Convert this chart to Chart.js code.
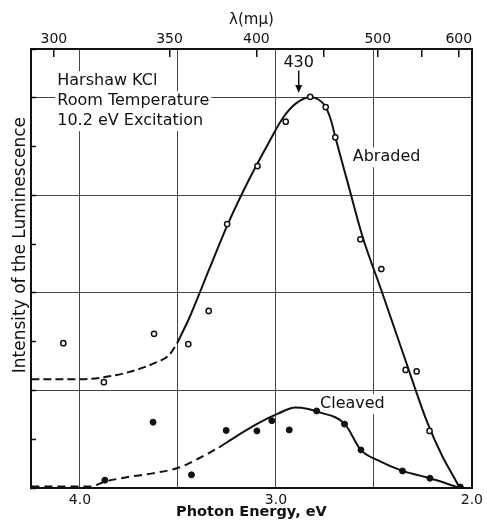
<!DOCTYPE html>
<html><head><meta charset="utf-8">
<script src="https://cdn.jsdelivr.net/npm/chart.js@4"></script>
<style>html,body{margin:0;padding:0;background:#fff}</style>
</head><body>
<canvas id="c" width="487" height="526"></canvas>
<script>
// ---- axis ticks ----
const energyTicks = [4.25, 4.0, 3.5, 3.0, 2.5, 2.0];
const energyLabels = {"4": "4.0", "3": "3.0", "2": "2.0"};
const lambdaTicks = [300, 350, 400, 450, 500, 550, 600];
const lambdaLabels = [300, 350, 400, 500, 600];
const intensityTicks = [0, 1, 2, 3, 4, 5, 6, 7, 8, 9];

// ---- measured points ----
const abradedE = [4.085, 3.878, 3.622, 3.447, 3.343, 3.249, 3.094, 2.950, 2.825, 2.746, 2.697, 2.569, 2.462, 2.338, 2.282, 2.216];
const abradedI = [2.97, 2.17, 3.16, 2.95, 3.63, 5.41, 6.60, 7.51, 8.02, 7.81, 7.19, 5.10, 4.49, 2.42, 2.39, 1.17];
const cleavedE = [3.873, 3.627, 3.431, 3.254, 3.097, 3.021, 2.932, 2.792, 2.650, 2.566, 2.354, 2.214, 2.059];
const cleavedI = [0.16, 1.35, 0.27, 1.18, 1.17, 1.38, 1.19, 1.58, 1.31, 0.78, 0.35, 0.20, 0.02];

// ---- hand-drawn curves ----
const abradedDashE = [4.248, 4.0, 3.878, 3.747, 3.62, 3.544, 3.504];
const abradedDashI = [2.23, 2.23, 2.27, 2.38, 2.56, 2.73, 2.97];
const abradedLineE = [3.504, 3.443, 3.342, 3.241, 3.139, 3.038, 2.962, 2.896, 2.825, 2.785, 2.749, 2.719, 2.694, 2.633, 2.557, 2.466, 2.339, 2.228, 2.152, 2.096, 2.061];
const abradedLineI = [2.97, 3.48, 4.47, 5.45, 6.31, 7.07, 7.60, 7.89, 8.01, 7.97, 7.83, 7.54, 7.15, 6.25, 5.14, 4.10, 2.62, 1.35, 0.66, 0.25, 0.0];
const cleavedDashE = [4.248, 3.949, 3.873, 3.762, 3.630, 3.494, 3.392, 3.291];
const cleavedDashI = [0.03, 0.03, 0.13, 0.22, 0.30, 0.42, 0.61, 0.83];
const cleavedLineE = [3.291, 3.190, 3.089, 2.987, 2.901, 2.835, 2.785, 2.648, 2.567, 2.481, 2.354, 2.213, 2.061];
const cleavedLineI = [0.83, 1.09, 1.33, 1.53, 1.65, 1.62, 1.56, 1.31, 0.78, 0.57, 0.35, 0.20, 0.0];

const peakLambda = 430;

const zip = (xs, ys) => xs.map((x, i) => ({x: x, y: ys[i]}));
const INK = '#111';
const FONT = 'DejaVu Sans';
Chart.defaults.font.family = FONT;
Chart.defaults.color = INK;

const notes = [
  {text: 'Harshaw KCl', E: 4.116, I: 8.34, bg: true},
  {text: 'Room Temperature', E: 4.116, I: 7.93, bg: true},
  {text: '10.2 eV Excitation', E: 4.116, I: 7.52, bg: true},
  {text: 'Abraded', E: 2.608, I: 6.78, bg: true},
  {text: 'Cleaved', E: 2.775, I: 1.72, bg: true}
];

const notesPlugin = {
  id: 'notes',
  beforeDatasetsDraw(chart) {
    const {ctx, scales: {x, y}} = chart;
    ctx.save();
    ctx.font = '16px ' + FONT;
    ctx.textAlign = 'left';
    ctx.textBaseline = 'middle';
    notes.forEach(n => {
      const px = x.getPixelForValue(n.E), py = y.getPixelForValue(n.I);
      const w = ctx.measureText(n.text).width;
      if (n.bg) { ctx.fillStyle = '#fff'; ctx.fillRect(px - 2, py - 10, w + 4, 20); }
      ctx.fillStyle = INK;
      ctx.fillText(n.text, px, py);
    });
    // peak marker
    const ex = x.getPixelForValue(1240 / peakLambda);
    ctx.textAlign = 'center';
    ctx.fillText(String(peakLambda), ex, y.getPixelForValue(8.71));
    const y1 = y.getPixelForValue(8.56), y2 = y.getPixelForValue(8.10);
    ctx.strokeStyle = INK; ctx.lineWidth = 1.5;
    ctx.beginPath(); ctx.moveTo(ex, y1); ctx.lineTo(ex, y2 - 6); ctx.stroke();
    ctx.beginPath(); ctx.moveTo(ex - 3.5, y2 - 8); ctx.lineTo(ex + 3.5, y2 - 8); ctx.lineTo(ex, y2); ctx.closePath();
    ctx.fillStyle = INK; ctx.fill();
    ctx.restore();
  },
  afterDraw(chart) {
    const {ctx, scales: {y}} = chart;
    ctx.save();
    ctx.translate(y.left + 21, y.getPixelForValue(4.98));
    ctx.rotate(-Math.PI / 2);
    ctx.font = '17px ' + FONT;
    ctx.textAlign = 'center';
    ctx.textBaseline = 'middle';
    ctx.fillStyle = INK;
    ctx.fillText('Intensity of the Luminescence', 0, 0);
    ctx.restore();
  }
};

const curve = (data, dash) => ({
  data: data, borderColor: INK, borderWidth: 2, borderDash: dash,
  pointRadius: 0, cubicInterpolationMode: 'monotone', fill: false, showLine: true
});

new Chart(document.getElementById('c'), {
  type: 'line',
  data: {
    datasets: [
      {label: 'Abraded', data: zip(abradedE, abradedI), showLine: false, pointRadius: 2.6,
       pointBorderWidth: 1.5, pointBorderColor: INK, pointBackgroundColor: '#fff'},
      {label: 'Cleaved', data: zip(cleavedE, cleavedI), showLine: false, pointRadius: 3,
       pointBorderWidth: 1, pointBorderColor: INK, pointBackgroundColor: INK},
      curve(zip(abradedLineE, abradedLineI), []),
      curve(zip(abradedDashE, abradedDashI), [8, 4]),
      curve(zip(cleavedLineE, cleavedLineI), []),
      curve(zip(cleavedDashE, cleavedDashI), [8, 5])
    ]
  },
  options: {
    responsive: false, animation: false, devicePixelRatio: 1,
    layout: {padding: 0},
    plugins: {legend: {display: false}, tooltip: {enabled: false}},
    scales: {
      x: {
        type: 'linear', position: 'bottom', min: 2.0, max: 4.25, reverse: true,
        afterBuildTicks: s => { s.ticks = energyTicks.map(v => ({value: v})); },
        afterFit: s => { s.height = 38; },
        ticks: {autoSkip: false, maxRotation: 0, padding: 4, font: {size: 14}, color: INK,
                callback: v => energyLabels[String(v)] || ''},
        grid: {drawTicks: false, lineWidth: 1,
               color: c => (c.tick && (c.tick.value === 4.25 || c.tick.value === 2.0)) ? 'rgba(0,0,0,0)' : '#444'},
        border: {color: INK, width: 2},
        title: {display: true, text: 'Photon Energy, eV', font: {size: 14.5, weight: 'bold'}, color: INK,
                padding: {top: 0, bottom: 5}}
      },
      x2: {
        type: 'linear', position: 'top', min: 2.0, max: 4.25, reverse: true,
        afterBuildTicks: s => { s.ticks = lambdaTicks.map(l => ({value: 1240 / l})); },
        afterFit: s => { s.height = 49; },
        ticks: {autoSkip: false, maxRotation: 0, padding: 9, font: {size: 14}, color: INK,
                callback: v => { const l = Math.round(1240 / v); return lambdaLabels.includes(l) ? String(l) : ''; }},
        grid: {drawOnChartArea: false, drawTicks: true, tickLength: -8, color: INK, lineWidth: 1.5},
        border: {color: INK, width: 2},
        title: {display: true, text: 'λ(mμ)', font: {size: 15}, color: INK, padding: {top: 11, bottom: 0}}
      },
      y: {
        type: 'linear', position: 'left', min: 0, max: 9,
        afterBuildTicks: s => { s.ticks = intensityTicks.map(v => ({value: v})); },
        afterFit: s => { s.width = 31; },
        ticks: {display: false},
        grid: {drawTicks: true, tickLength: -5, tickColor: INK, tickWidth: 1.5, lineWidth: 1,
               color: c => (c.tick && c.tick.value % 2 === 0 && c.tick.value > 0 && c.tick.value < 9) ? '#444' : 'rgba(0,0,0,0)'},
        border: {color: INK, width: 2}
      },
      y2: {
        type: 'linear', position: 'right', min: 0, max: 9,
        afterFit: s => { s.width = 12; },
        ticks: {display: false},
        grid: {drawOnChartArea: false, drawTicks: false},
        border: {color: INK, width: 2}
      }
    }
  },
  plugins: [notesPlugin]
});
</script>
</body></html>
